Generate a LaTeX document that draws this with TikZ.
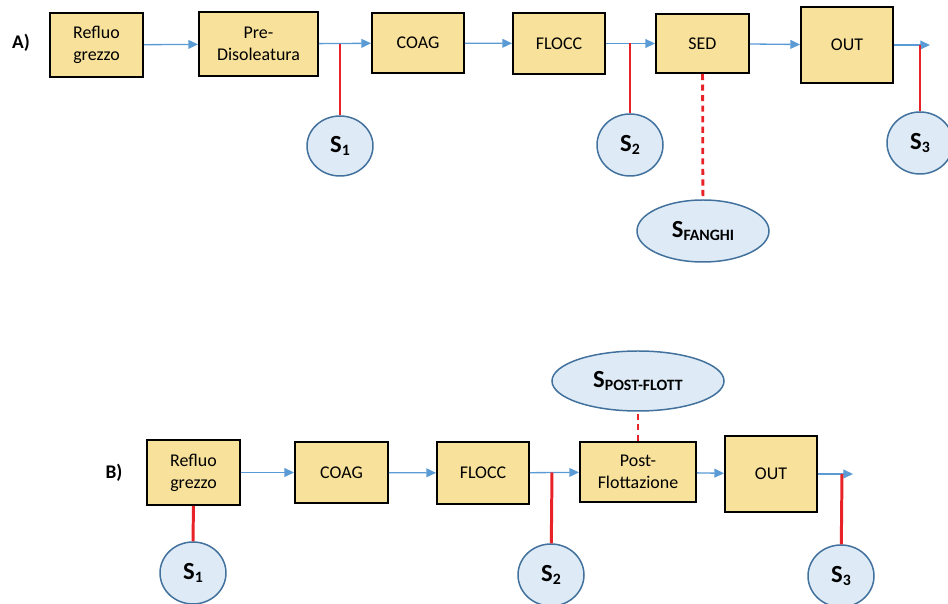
\documentclass[tikz,border=0pt]{standalone}
\usepackage{fontspec}
\setmainfont{Carlito}
\usepackage{tikz}
\usetikzlibrary{shapes.geometric,arrows.meta,positioning}
\definecolor{boxfill}{RGB}{248,225,155}
\definecolor{smpfill}{RGB}{222,235,247}
\definecolor{smpline}{RGB}{65,113,156}
\definecolor{flowblue}{RGB}{91,155,213}
\definecolor{tapred}{RGB}{232,35,40}
\tikzset{
      unit/.style   = {draw=black, line width=1.1pt, fill=boxfill, inner sep=0pt, align=center,
                       font=\fontsize{10.2}{12.5}\selectfont},
      smp/.style    = {ellipse, draw=smpline, line width=0.85pt, fill=smpfill, inner sep=0pt,
                       font=\fontsize{14}{16}\selectfont\bfseries},
      wh/.style 2 args = {minimum width=#1*0.02cm, minimum height=#2*0.02cm},
      flow/.style   = {flowblue, line width=0.75pt, -{Triangle[length=5.5pt,width=5pt]}},
      tap/.style    = {tapred, line width=1.7pt},
      taplink/.style = {tapred, line width=1.6pt, dash pattern=on 3.5pt off 2.5pt},
      label/.style  = {font=\fontsize{11}{13}\selectfont\bfseries},
    }
\newcommand{\pedice}[1]{\raisebox{-0.3ex}{\fontsize{9}{10}\selectfont #1}}

\begin{document}
\begin{tikzpicture}[x=0.02cm, y=-0.02cm]
        \useasboundingbox (0,0) rectangle (948,604);

        % linea A
        \node [label] (labA) at (21,43) {A)};
        \node [unit, wh={93}{64}] (refluoA) at (96.5,45) {Refluo\\grezzo};
        \node [unit, wh={119}{64}] (preA) at (258.5,44) {Pre-\\Disoleatura};
        \node [unit, wh={92}{60}] (coagA) at (418,43) {COAG};
        \node [unit, wh={92}{61}] (floccA) at (559,43.5) {FLOCC};
        \node [unit, wh={93}{59}] (sedA) at (702.5,43.5) {SED};
        \node [unit, wh={92}{76}] (outA) at (847,45) {OUT};

        \node [smp, wh={66}{60}] (s1A) at (340,146) {S\pedice{1}};
        \node [smp, wh={66}{62}] (s2A) at (630,145) {S\pedice{2}};
        \node [smp, wh={66}{62}] (s3A) at (920,143) {S\pedice{3}};
        \node [smp, wh={132}{62}] (sfA) at (703,231) {S\pedice{FANGHI}};

        \coordinate (t1A) at (340,44);
        \coordinate (t2A) at (630,43.5);
        \coordinate (t3A) at (920,45);
        \coordinate (endA) at (930,45);

        \draw [flow] (refluoA) -- (preA);
        \draw [flow] (preA) -- (coagA);
        \draw [flow] (coagA) -- (floccA);
        \draw [flow] (floccA) -- (sedA);
        \draw [flow] (sedA) -- (outA);
        \draw [flow] (outA.east) -- (endA);

        \draw [tap] (t1A) -- (s1A);
        \draw [tap] (t2A) -- (s2A);
        \draw [tap] (t3A) -- (s3A);
        \draw [taplink] (sedA) -- (sfA);

        % linea B
        \node [label] (labB) at (114,473) {B)};
        \node [unit, wh={93}{65}] (refluoB) at (193.5,472.5) {Refluo\\grezzo};
        \node [unit, wh={93}{61}] (coagB) at (341.5,472.5) {COAG};
        \node [unit, wh={92}{62}] (floccB) at (483,473) {FLOCC};
        \node [unit, wh={116}{60}] (postB) at (638,472) {Post-\\Flottazione};
        \node [unit, wh={92}{76}] (outB) at (771,474) {OUT};

        \node [smp, wh={172}{60}] (spfB) at (638,381) {S\pedice{POST-FLOTT}};
        \node [smp, wh={66}{62}] (s1B) at (193,573) {S\pedice{1}};
        \node [smp, wh={66}{62}] (s2B) at (551,575) {S\pedice{2}};
        \node [smp, wh={66}{62}] (s3B) at (841,576) {S\pedice{3}};

        \coordinate (t2B) at (552,472.5);
        \coordinate (t3B) at (842,474);
        \coordinate (endB) at (853,474);

        \draw [flow] (refluoB) -- (coagB);
        \draw [flow] (coagB) -- (floccB);
        \draw [flow] (floccB) -- (postB);
        \draw [flow] (postB) -- (outB);
        \draw [flow] (outB.east) -- (endB);

        \draw [tap] (refluoB) -- (s1B);
        \draw [tap] (t2B) -- (s2B);
        \draw [tap] (t3B) -- (s3B);
        \draw [taplink] (postB) -- (spfB);

\end{tikzpicture}
\end{document}
